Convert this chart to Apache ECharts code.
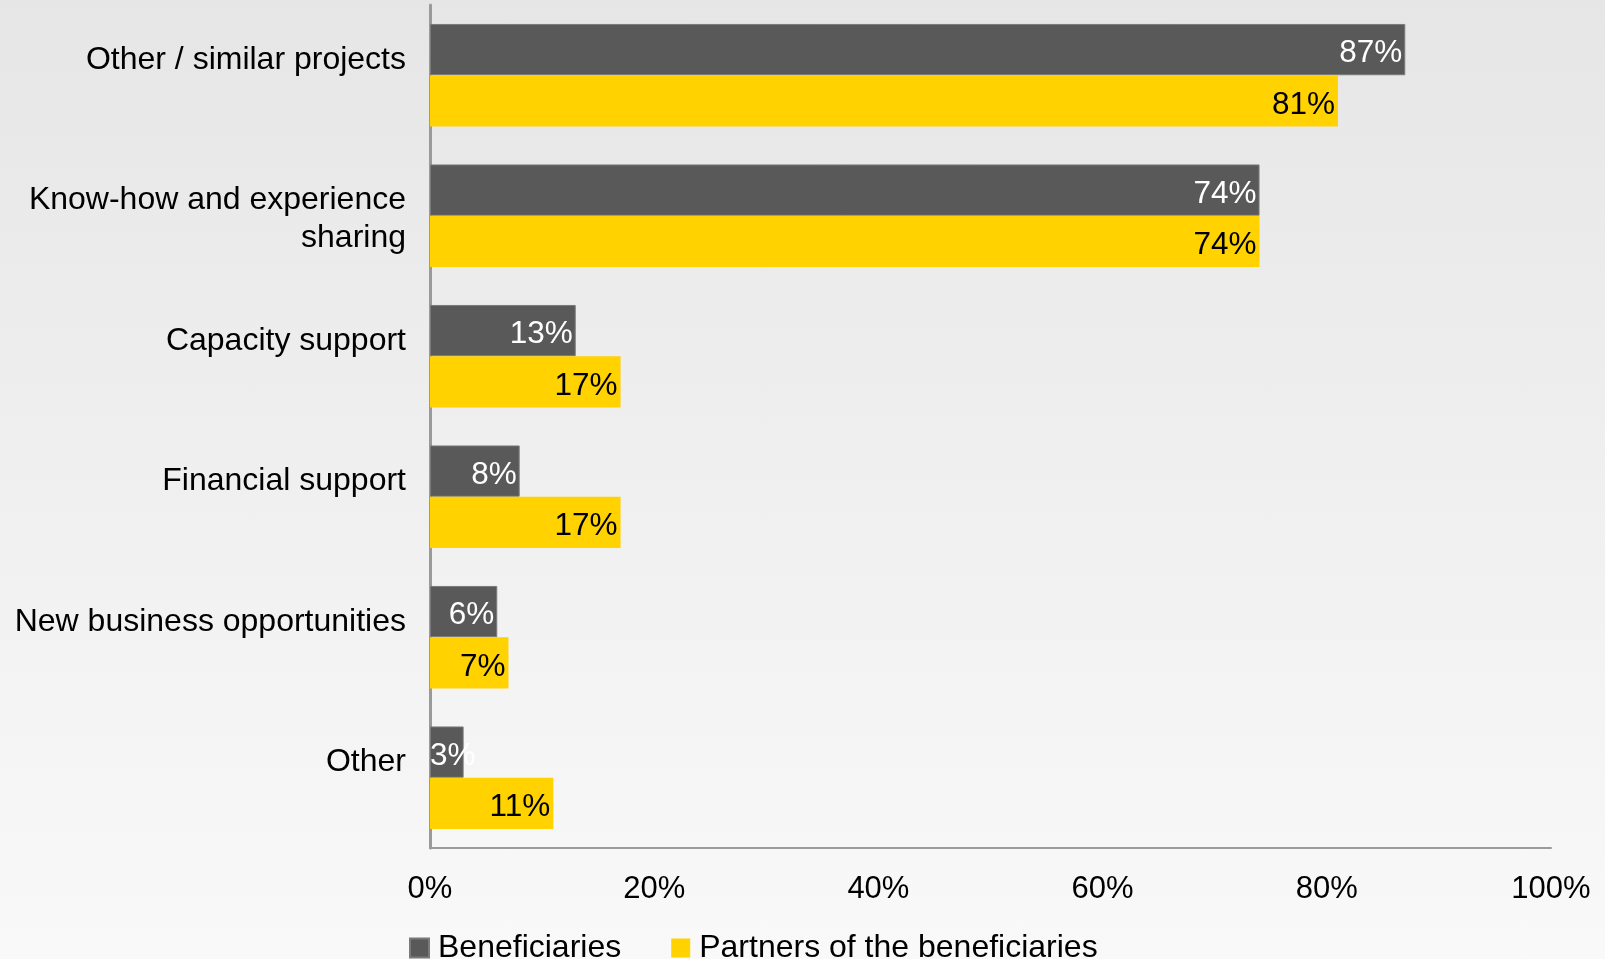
<!DOCTYPE html>
<html>
<head>
<meta charset="utf-8">
<script src="https://cdn.jsdelivr.net/npm/echarts@6/dist/echarts.min.js"></script>
<style>
  html, body { margin: 0; padding: 0; }
  body { background: linear-gradient(to bottom, #e6e6e6 0%, #f9f9f9 100%); }
  #chart { width: 1605px; height: 959px; }
</style>
</head>
<body>
<div id="chart"></div>
<script>
const categories = [
  'Other / similar projects',
  'Know-how and experience\nsharing',
  'Capacity support',
  'Financial support',
  'New business opportunities',
  'Other'
];
const beneficiaries = [87, 74, 13, 8, 6, 3];
const partners = [81, 74, 17, 17, 7, 11];
const xTicks = [0, 20, 40, 60, 80, 100];

const FONT = '"Liberation Sans", Arial, sans-serif';

// narrow bars: keep the label starting at the bar's left edge
function barData(values) {
  return values.map(v => v < 5
    ? { value: v, label: { position: 'insideLeft', distance: 0 } }
    : v);
}

const chart = echarts.init(document.getElementById('chart'));

chart.setOption({
  backgroundColor: 'transparent',
  textStyle: { fontFamily: FONT },
  grid: { left: 430, right: 54, top: 5, bottom: 111 },
  legend: {
    left: 404,
    top: 927,
    icon: 'rect',
    itemWidth: 19,
    itemHeight: 19,
    itemGap: 50,
    textStyle: { fontSize: 32, color: '#000', fontFamily: FONT, padding: [0, 0, 0, 4] },
    data: ['Beneficiaries', 'Partners of the beneficiaries']
  },
  xAxis: {
    type: 'value',
    min: xTicks[0],
    max: xTicks[xTicks.length - 1],
    interval: 20,
    splitLine: { show: false },
    axisTick: { show: false },
    axisLine: { show: true, lineStyle: { color: '#9a9a9a', width: 2 } },
    axisLabel: {
      margin: 26,
      fontSize: 31,
      color: '#000',
      fontFamily: FONT,
      formatter: v => v + '%'
    }
  },
  yAxis: {
    type: 'category',
    inverse: true,
    data: categories,
    axisTick: { show: false },
    axisLine: { show: true, lineStyle: { color: '#9a9a9a', width: 3 } },
    axisLabel: {
      margin: 24,
      color: '#000',
      align: 'right',
      fontFamily: FONT,
      formatter: v => v.split('\n').map(s => '{t|' + s + '}').join('\n') +
        (v.includes('\n') ? '' : '\n{t| }'),
      rich: {
        t: { fontSize: 32, lineHeight: 38, color: '#000', fontFamily: FONT, padding: [7, 0, 0, 0] }
      }
    }
  },
  series: [
    {
      name: 'Beneficiaries',
      type: 'bar',
      data: barData(beneficiaries),
      barGap: '0%',
      barCategoryGap: '27%',
      itemStyle: { color: '#595959', borderColor: '#7a7a7a', borderWidth: 1 },
      label: {
        show: true,
        position: 'insideRight',
        distance: 3,
        offset: [0, 4],
        color: '#fff',
        fontSize: 31.5,
        fontFamily: FONT,
        formatter: p => p.value + '%'
      }
    },
    {
      name: 'Partners of the beneficiaries',
      type: 'bar',
      data: barData(partners),
      itemStyle: { color: '#ffd200' },
      label: {
        show: true,
        position: 'insideRight',
        distance: 3,
        offset: [0, 4],
        color: '#000',
        fontSize: 31.5,
        fontFamily: FONT,
        formatter: p => p.value + '%'
      }
    }
  ]
});
</script>
</body>
</html>
